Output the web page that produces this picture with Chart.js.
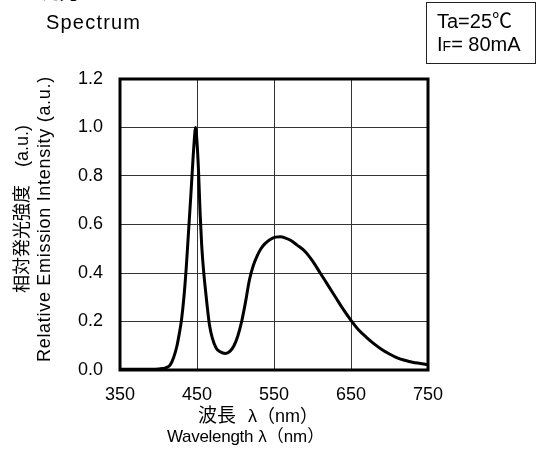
<!DOCTYPE html>
<html>
<head>
<meta charset="utf-8">
<script src="https://cdn.jsdelivr.net/npm/chart.js@4"></script>
<style>
    body { margin: 0; background: #fff; }
    #wrap { position: relative; width: 538px; height: 451px; overflow: hidden; font-family: "Liberation Sans", Arial, "Noto Sans CJK JP", sans-serif; color: #000; }
    #wrap canvas { position: absolute; left: 0; top: 0; }
    .txt { position: absolute; white-space: nowrap; line-height: 1; }
    .jp { font-family: "Liberation Sans", Arial, "Noto Sans CJK JP", sans-serif; }
    .vert { transform-origin: 0 0; transform: rotate(-90deg); }
    #cond { position: absolute; left: 426px; top: 2px; width: 110px; height: 62px; border: 1px solid #222; box-sizing: border-box; }
</style>
</head>
<body>
<div id="wrap">
    <canvas id="spectrumChart" width="538" height="451"></canvas>
    <div class="txt jp" style="left:26px; top:-16px; font-size:18px;">■ 発光スペクトル</div>
    <div class="txt" style="left:46px; top:12px; font-size:20px; letter-spacing:1.2px;">Spectrum</div>
    <div id="cond">
        <div class="txt jp" style="left:10px; top:8px; font-size:20px;">Ta=25℃</div>
        <div class="txt" style="left:10px; top:31px; font-size:20px;">I<span style="font-size:14px;">F</span>= 80mA</div>
    </div>
    <div class="txt jp vert" style="left:13px; top:293px; font-size:18px;">相対発光強度　(a.u.)</div>
    <div class="txt vert" style="left:35px; top:362px; font-size:18px; letter-spacing:0.7px;">Relative Emission Intensity (a.u.)</div>
    <div class="txt jp" style="left:198px; top:406px; font-size:19px;">波長<span style="margin-left:12px; font-size:18px;">λ</span><span style="font-size:18px;">（nm）</span></div>
    <div class="txt jp" style="left:167px; top:428px; font-size:17px;"><span style="letter-spacing:-0.3px;">Wavelength</span><span style="margin-left:5px;">λ</span>（nm）</div>
</div>
<script>
// Spectrum data (wavelength in nm, relative intensity)
const wavelengths = [350, 360, 370, 380, 390, 400, 405, 410, 415, 420, 424, 427, 430, 433, 436, 439, 442, 445, 447, 448,
    450, 452, 454, 456, 458, 460, 463, 466, 470, 475, 480, 487, 493, 498, 503, 508, 513, 518, 523, 528, 533, 538,
    545, 552, 558, 565, 572, 580, 590, 600, 610, 620, 630, 640, 650, 660, 670, 680, 690, 700, 710, 720, 730, 740, 750];
const intensity = [0.003, 0.003, 0.003, 0.003, 0.003, 0.004, 0.006, 0.01, 0.02, 0.055, 0.10, 0.15, 0.21, 0.30, 0.42, 0.57, 0.72, 0.88, 0.97, 1.0,
    0.94, 0.82, 0.65, 0.52, 0.43, 0.36, 0.27, 0.19, 0.13, 0.09, 0.075, 0.068, 0.078, 0.10, 0.14, 0.20, 0.28, 0.37, 0.43, 0.47, 0.50, 0.52,
    0.538, 0.548, 0.549, 0.544, 0.534, 0.515, 0.49, 0.45, 0.40, 0.35, 0.30, 0.25, 0.205, 0.165, 0.135, 0.108, 0.085, 0.066, 0.05, 0.04, 0.032, 0.027, 0.022];

const xTickValues = [350, 450, 550, 650, 750];
const yTickValues = [0, 0.2, 0.4, 0.6, 0.8, 1.0, 1.2];

// Thick frame around the plot area
const frame = {
    id: 'frame',
    beforeDatasetsDraw(chart) {
        const a = chart.chartArea;
        const ctx = chart.ctx;
        ctx.save();
        ctx.strokeStyle = '#000';
        ctx.lineWidth = 3;
        ctx.strokeRect(a.left, a.top, a.right - a.left, a.bottom - a.top);
        ctx.restore();
    }
};

const tickFont = { family: '"Liberation Sans", Arial, sans-serif', size: 18 };

new Chart(document.getElementById('spectrumChart'), {
    type: 'line',
    data: {
        datasets: [{
            data: wavelengths.map((w, i) => ({ x: w, y: intensity[i] })),
            borderColor: '#000',
            borderWidth: 3,
            pointRadius: 0,
            cubicInterpolationMode: 'monotone',
            fill: false
        }]
    },
    options: {
        responsive: false,
        devicePixelRatio: 1,
        animation: false,
        layout: { padding: { top: 79, right: 110, left: 0, bottom: 0 } },
        plugins: { legend: { display: false }, tooltip: { enabled: false } },
        scales: {
            x: {
                type: 'linear',
                min: 350,
                max: 750,
                afterBuildTicks: axis => { axis.ticks = xTickValues.map(v => ({ value: v })); },
                afterFit: axis => { axis.height = 81; },
                grid: { color: '#333', lineWidth: 1, drawTicks: false },
                border: { display: false },
                ticks: { color: '#000', font: tickFont, padding: 14, maxRotation: 0, callback: v => String(v) }
            },
            y: {
                min: 0,
                max: 1.2,
                afterBuildTicks: axis => { axis.ticks = yTickValues.map(v => ({ value: v })); },
                afterFit: axis => { axis.width = 120; },
                grid: { color: '#333', lineWidth: 1, drawTicks: false },
                border: { display: false },
                ticks: { color: '#000', font: tickFont, padding: 17, callback: v => v.toFixed(1) }
            }
        }
    },
    plugins: [frame]
});
</script>
</body>
</html>
